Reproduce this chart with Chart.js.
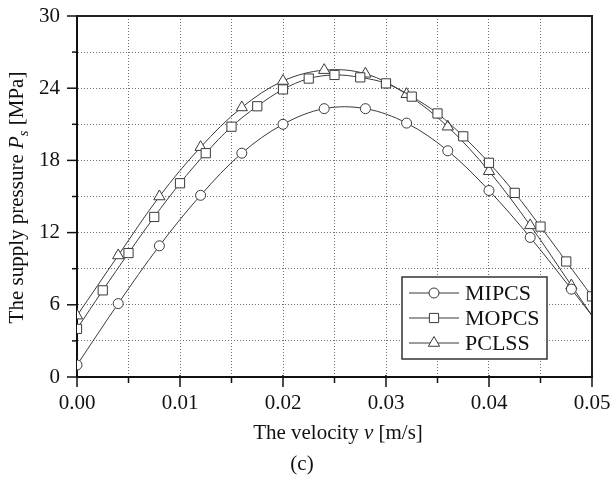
<!DOCTYPE html>
<html>
<head>
<meta charset="utf-8">
<script src="https://cdn.jsdelivr.net/npm/chart.js@4/dist/chart.umd.min.js"></script>
<style>
  body { margin: 0; background: #fff; }
  #wrap { width: 615px; height: 481px; }
</style>
</head>
<body>
<div id="wrap"><canvas id="chart" width="615" height="481"></canvas></div>
<script>
// velocity points (m/s); last point of the coarse set only continues the line
const velocityCoarse = [0, 0.004, 0.008, 0.012, 0.016, 0.020, 0.024, 0.028, 0.032, 0.036, 0.040, 0.044, 0.048, 0.050];
const velocityFine = [0, 0.0025, 0.005, 0.0075, 0.010, 0.0125, 0.015, 0.0175, 0.020, 0.0225, 0.025,
  0.0275, 0.030, 0.0325, 0.035, 0.0375, 0.040, 0.0425, 0.045, 0.0475, 0.050];

// supply pressure Ps (MPa)
const mipcs = [1.0, 6.1, 10.9, 15.1, 18.6, 21.0, 22.3, 22.3, 21.1, 18.8, 15.5, 11.6, 7.3, 5.1];
const pclss = [5.1, 10.1, 15.0, 19.1, 22.4, 24.6, 25.5, 25.2, 23.5, 20.8, 17.1, 12.6, 7.6, 5.1];
const mopcs = [4.0, 7.2, 10.3, 13.3, 16.1, 18.6, 20.8, 22.5, 23.9, 24.8, 25.1,
  24.9, 24.4, 23.3, 21.9, 20.0, 17.8, 15.3, 12.5, 9.6, 6.7];

const seriesNames = ['MIPCS', 'MOPCS', 'PCLSS'];
const xTickLabels = ['0.00', '0.01', '0.02', '0.03', '0.04', '0.05'];
const yTickLabels = ['0', '6', '12', '18', '24', '30'];

const serif = "'Liberation Serif', 'Times New Roman', serif";
const lineColor = '#3a3a3a';

function toPoints(xs, ys) {
  return xs.map((x, i) => ({ x: x, y: ys[i] }));
}

function makeSet(label, xs, ys, style, radius, markLast) {
  return {
    label: label,
    data: toPoints(xs, ys),
    borderColor: lineColor,
    borderWidth: 1,
    backgroundColor: '#fff',
    pointStyle: style,
    pointBorderColor: lineColor,
    pointBackgroundColor: '#fff',
    pointBorderWidth: 1,
    pointRadius: ctx => (!markLast && ctx.dataIndex === xs.length - 1) ? 0 : radius,
    pointHoverRadius: radius,
    tension: 0.35,
    fill: false
  };
}

// draw a legend marker by hand
function drawMarker(ctx, style, x, y) {
  ctx.beginPath();
  if (style === 'circle') {
    ctx.arc(x, y, 5, 0, Math.PI * 2);
  } else if (style === 'rect') {
    ctx.rect(x - 4.6, y - 4.6, 9.2, 9.2);
  } else {
    const r = 6.5;
    ctx.moveTo(x, y - r);
    ctx.lineTo(x + r * 0.866, y + r * 0.5);
    ctx.lineTo(x - r * 0.866, y + r * 0.5);
    ctx.closePath();
  }
  ctx.fillStyle = '#fff';
  ctx.fill();
  ctx.strokeStyle = lineColor;
  ctx.lineWidth = 1;
  ctx.stroke();
}

// draw text runs [text, italic, sub] one after another
function drawRuns(ctx, runs, size) {
  let w = 0;
  runs.forEach(r => {
    ctx.font = (r[1] ? 'italic ' : '') + (r[2] ? size * 0.7 : size) + 'px ' + serif;
    w += ctx.measureText(r[0]).width;
  });
  let x = -w / 2;
  runs.forEach(r => {
    ctx.font = (r[1] ? 'italic ' : '') + (r[2] ? size * 0.7 : size) + 'px ' + serif;
    ctx.fillText(r[0], x, r[2] ? 5 : 0);
    x += ctx.measureText(r[0]).width;
  });
}

const decor = {
  id: 'decor',
  afterDatasetsDraw(chart) {
    const ctx = chart.ctx;
    // legend box
    const bx = 402, by = 277, bw = 145, bh = 82;
    ctx.save();
    ctx.fillStyle = '#fff';
    ctx.fillRect(bx, by, bw, bh);
    ctx.strokeStyle = '#333';
    ctx.lineWidth = 1.5;
    ctx.strokeRect(bx, by, bw, bh);
    chart.data.datasets.forEach((ds, i) => {
      const y = by + 16 + i * 25;
      ctx.beginPath();
      ctx.moveTo(bx + 7, y);
      ctx.lineTo(bx + 57, y);
      ctx.strokeStyle = lineColor;
      ctx.lineWidth = 1;
      ctx.stroke();
      drawMarker(ctx, ds.pointStyle, bx + 32, y);
      ctx.fillStyle = '#111';
      ctx.font = '22px ' + serif;
      ctx.textBaseline = 'middle';
      ctx.textAlign = 'left';
      ctx.fillText(ds.label, bx + 63, y + 1);
    });
    ctx.restore();
  },
  afterDraw(chart) {
    const ctx = chart.ctx;
    const a = chart.chartArea;
    const xs = chart.scales.x, ys = chart.scales.y;
    ctx.save();
    // top and right frame
    ctx.strokeStyle = '#222';
    ctx.lineWidth = 2;
    ctx.beginPath();
    ctx.moveTo(a.left, a.top);
    ctx.lineTo(a.right, a.top);
    ctx.lineTo(a.right, a.bottom);
    ctx.stroke();
    // tick marks
    ctx.lineWidth = 1.5;
    ctx.strokeStyle = '#111';
    xs.ticks.forEach(t => {
      const px = xs.getPixelForValue(t.value);
      const major = Math.round(t.value * 1000) % 10 === 0;
      ctx.beginPath();
      ctx.moveTo(px, a.bottom - (major ? 2 : 0));
      ctx.lineTo(px, a.bottom + (major ? 10 : 6));
      ctx.stroke();
    });
    ys.ticks.forEach(t => {
      const py = ys.getPixelForValue(t.value);
      const major = Math.round(t.value) % 6 === 0;
      ctx.beginPath();
      ctx.moveTo(a.left, py);
      ctx.lineTo(a.left - (major ? 10 : 5), py);
      ctx.stroke();
    });
    // axis titles and caption
    ctx.fillStyle = '#111';
    ctx.textAlign = 'left';
    ctx.textBaseline = 'alphabetic';
    ctx.save();
    ctx.translate(23, (a.top + a.bottom) / 2 + 1);
    ctx.rotate(-Math.PI / 2);
    drawRuns(ctx, [['The supply pressure ', false], ['P', true], ['s', true, true], [' [MPa]', false]], 21);
    ctx.restore();
    ctx.save();
    ctx.translate(338, 439);
    drawRuns(ctx, [['The velocity ', false], ['v', true], [' [m/s]', false]], 21);
    ctx.restore();
    ctx.save();
    ctx.translate(302, 470);
    drawRuns(ctx, [['(c)', false]], 21);
    ctx.restore();
    ctx.restore();
  }
};

const edgeless = ctx => (ctx.index === 0 || ctx.index === ctx.scale.ticks.length - 1) ? 'rgba(0,0,0,0)' : '#707070';

new Chart(document.getElementById('chart'), {
  type: 'line',
  data: {
    datasets: [
      makeSet(seriesNames[0], velocityCoarse, mipcs, 'circle', 5, false),
      makeSet(seriesNames[1], velocityFine, mopcs, 'rect', 6.5, true),
      makeSet(seriesNames[2], velocityCoarse, pclss, 'triangle', 6.5, false)
    ]
  },
  options: {
    responsive: false,
    animation: false,
    devicePixelRatio: 1,
    layout: { padding: { top: 16, right: 23, left: 0, bottom: 0 } },
    plugins: { legend: { display: false }, tooltip: { enabled: false } },
    scales: {
      x: {
        type: 'linear',
        min: 0,
        max: 0.05,
        afterFit: s => { s.height = 104; s.paddingLeft = 0; s.paddingRight = 0; },
        ticks: {
          stepSize: 0.005,
          padding: 14,
          maxRotation: 0,
          autoSkip: false,
          color: '#111',
          font: { family: serif, size: 21 },
          callback: v => {
            const k = Math.round(v * 1000);
            return k % 10 === 0 ? xTickLabels[k / 10] : '';
          }
        },
        grid: { color: edgeless, lineWidth: 1, drawTicks: false },
        border: { color: '#111', width: 2, dash: [1, 2] }
      },
      y: {
        min: 0,
        max: 30,
        afterFit: s => { s.width = 77; s.paddingTop = 0; s.paddingBottom = 0; },
        ticks: {
          stepSize: 3,
          padding: 17,
          autoSkip: false,
          color: '#111',
          font: { family: serif, size: 21 },
          callback: v => (Math.round(v) % 6 === 0 ? yTickLabels[Math.round(v) / 6] : '')
        },
        grid: { color: edgeless, lineWidth: 1, drawTicks: false },
        border: { color: '#111', width: 2, dash: [1, 2] }
      }
    }
  },
  plugins: [decor]
});
</script>
</body>
</html>
